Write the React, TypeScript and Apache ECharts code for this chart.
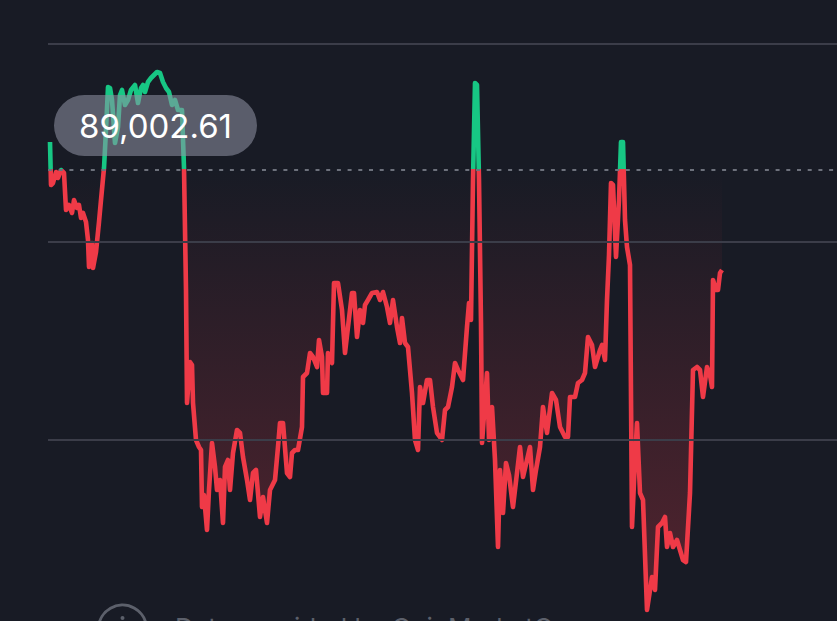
import React, { useEffect, useRef } from "react";
import * as echarts from "echarts";

// Reference (opening) price shown in the pill and drawn as the dashed line
const BASE_PRICE = 89002.61;

// Time offsets (minutes from start of the window)
const TIMES: number[] = [
  2, 3, 5, 8, 10, 13, 16, 18, 21, 24, 26, 29, 31, 33, 35, 38, 40, 41, 44, 45, 48, 51, 53, 56, 58, 60, 62, 64, 67, 70,
  72, 74, 77, 80, 83, 87, 90, 93, 95, 97, 100, 103, 106, 109, 112, 115, 118, 121, 124, 127, 130, 134, 136, 138, 139,
  142, 144, 145, 148, 151, 153, 154, 156, 159, 161, 164, 167, 169, 172, 175, 177, 180, 182, 185, 189, 192, 195, 199,
  202, 205, 208, 212, 215, 219, 222, 227, 230, 232, 235, 239, 242, 244, 247, 250, 254, 255, 259, 262, 265, 269, 271,
  274, 275, 279, 280, 284, 286, 290, 294, 297, 300, 304, 306, 309, 312, 315, 317, 320, 324, 329, 332, 335, 339, 342,
  345, 349, 352, 354, 357, 360, 364, 367, 370, 372, 375, 379, 382, 385, 389, 394, 397, 400, 404, 407, 410, 415, 419,
  421, 423, 425, 427, 429, 431, 433, 434, 439, 441, 444, 447, 450, 452, 455, 458, 461, 465, 469, 472, 475, 479, 482,
  485, 488, 492, 495, 499, 504, 508, 512, 517, 520, 522, 527, 530, 534, 537, 540, 544, 547, 552, 554, 557, 559, 561,
  563, 565, 568, 571, 573, 575, 577, 579, 582, 584, 587, 589, 592, 595, 599, 604, 607, 610, 614, 617, 619, 622, 625,
  629, 632, 635, 638, 642, 645, 649, 652, 655, 659, 662, 664, 665, 668, 670, 672, 674,
];

// Price (USD)
const PRICES: number[] = [
  89112, 88940, 88948, 88992, 88968, 89000, 88988, 88840, 88860, 88828, 88880, 88848, 88860, 88808, 88828, 88792,
  88720, 88612, 88708, 88608, 88672, 88792, 88880, 89008, 89160, 89332, 89328, 89280, 89108, 89172, 89300, 89320,
  89260, 89280, 89320, 89340, 89268, 89328, 89340, 89312, 89352, 89368, 89380, 89392, 89388, 89352, 89328, 89312,
  89260, 89280, 89240, 89240, 89008, 88520, 88068, 88232, 88220, 88068, 87920, 87892, 87880, 87652, 87700, 87560,
  87720, 87908, 87812, 87720, 87760, 87588, 87812, 87840, 87720, 87868, 87960, 87948, 87852, 87760, 87680, 87788,
  87800, 87612, 87692, 87588, 87720, 87760, 87892, 87988, 87988, 87788, 87772, 87868, 87880, 87880, 87972, 88172,
  88188, 88268, 88252, 88212, 88320, 88252, 88108, 88108, 88268, 88228, 88548, 88548, 88440, 88268, 88372, 88508,
  88508, 88332, 88440, 88388, 88460, 88480, 88508, 88512, 88480, 88512, 88452, 88388, 88480, 88372, 88308, 88408,
  88308, 88292, 88108, 87920, 87880, 88132, 88068, 88160, 88160, 88052, 87948, 87920, 88040, 88052, 88132, 88228,
  88200, 88160, 88372, 88468, 88400, 88960, 89348, 89340, 88960, 88388, 87908, 88188, 87920, 88052, 87840, 87492,
  87800, 87628, 87828, 87780, 87652, 87788, 87892, 87772, 87840, 87892, 87720, 87800, 87892, 88052, 87948, 88108,
  88080, 87972, 87932, 87932, 88092, 88092, 88148, 88160, 88188, 88332, 88300, 88212, 88280, 88300, 88240, 88480,
  88660, 88948, 88940, 88652, 88880, 89112, 89112, 88800, 88692, 88620, 87572, 87840, 87988, 87708, 87680, 87240,
  87372, 87320, 87572, 87588, 87612, 87492, 87548, 87492, 87520, 87480, 87440, 87432, 87708, 88200, 88212, 88200,
  88092, 88212, 88180, 88132, 88560, 88520, 88520, 88588, 88600,
];

// Horizontal guide lines (price levels)
const GRID_LEVELS: number[] = [89504, 88712, 87920];

// Visible window
const TIME_MIN = 0;
const TIME_MAX = 789;
const PRICE_MIN = 87196;
const PRICE_MAX = 89680;

const BG = "#181b25";
const GREEN = "#17c784";
const RED = "#ef3a47";

export default function App() {
  const ref = useRef<HTMLDivElement>(null);

  useEffect(() => {
    if (!ref.current) return;
    const chart = echarts.init(ref.current, undefined, { renderer: "svg" });
    const data = TIMES.map((t, i) => [t, PRICES[i]]);
    const H = 621;
    const basePx = ((PRICE_MAX - BASE_PRICE) / (PRICE_MAX - PRICE_MIN)) * H;

    chart.setOption({
      animation: false,
      backgroundColor: BG,
      grid: { left: 48, right: 0, top: 0, bottom: 0 },
      xAxis: {
        type: "value",
        min: TIME_MIN,
        max: TIME_MAX,
        show: false,
      },
      yAxis: {
        type: "value",
        min: PRICE_MIN,
        max: PRICE_MAX,
        show: false,
        splitLine: { show: false },
      },
      visualMap: {
        show: false,
        type: "piecewise",
        dimension: 1,
        seriesIndex: 1,
        pieces: [
          { gte: PRICE_MIN - 1000, lt: BASE_PRICE, color: RED },
          { gte: BASE_PRICE, lte: PRICE_MAX + 1000, color: GREEN },
        ],
      },
      series: [
        {
          type: "line",
          z: 1,
          data: data,
          showSymbol: false,
          silent: true,
          lineStyle: { opacity: 0, width: 0 },
          markLine: {
            silent: true,
            symbol: ["none", "none"],
            label: { show: false },
            data: [
              ...GRID_LEVELS.map((v) => ({
                yAxis: v,
                lineStyle: { color: "#3b3d49", width: 2, type: "solid" },
              })),
              {
                yAxis: BASE_PRICE,
                lineStyle: { color: "#6d717c", width: 2, type: [4, 6.7] },
              },
            ],
          },
        },
        {
          type: "line",
          z: 3,
          data: data,
          showSymbol: false,
          silent: true,
          lineStyle: { width: 4.6, join: "round" },
          areaStyle: {
            origin: BASE_PRICE,
            color: new echarts.graphic.LinearGradient(
              0,
              basePx,
              0,
              612,
              [
                { offset: 0, color: "rgba(239,58,71,0.0)" },
                { offset: 1, color: "rgba(239,58,71,0.28)" },
              ],
              true
            ),
            opacity: 1,
          },
        },
      ],
      graphic: [
        {
          type: "rect",
          z: 100,
          shape: { x: 54, y: 95, width: 203, height: 61, r: 30.5 },
          style: { fill: "rgba(142,147,162,0.56)" },
        },
        {
          type: "text",
          z: 101,
          x: 155.5,
          y: 125.5,
          style: {
            text: BASE_PRICE.toLocaleString("en-US", { minimumFractionDigits: 2, maximumFractionDigits: 2 }),
            fill: "#ffffff",
            fontSize: 33,
            fontFamily: "Inter, Roboto, sans-serif",
            align: "center",
            verticalAlign: "middle",
          },
        },
        {
          type: "circle",
          z: 100,
          shape: { cx: 122.5, cy: 629, r: 24 },
          style: { fill: "none", stroke: "#5c606b", lineWidth: 3 },
        },
        {
          type: "rect",
          z: 100,
          shape: { x: 120.5, y: 616, width: 4, height: 4, r: 2 },
          style: { fill: "#5c606b" },
        },
        {
          type: "text",
          z: 100,
          x: 175,
          y: 614.5,
          style: {
            text: "Data provided by CoinMarketCap",
            fill: "#5c606b",
            fontSize: 26,
            fontFamily: "Inter, Roboto, sans-serif",
            align: "left",
            verticalAlign: "top",
          },
        },
      ],
    });

    return () => chart.dispose();
  }, []);

  return (
    <div
      ref={ref}
      style={{ position: "fixed", left: 0, top: 0, width: 837, height: 621, background: BG }}
    />
  );
}
